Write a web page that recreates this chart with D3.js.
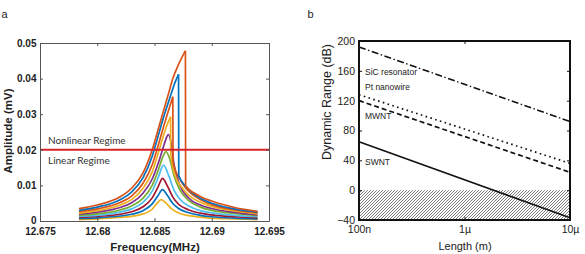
<!DOCTYPE html>
<html><head><meta charset="utf-8">
<script src="https://cdn.jsdelivr.net/npm/d3@7"></script>
<style>body{margin:0;background:#fff}svg{display:block}</style>
</head><body>
<svg id="chart" width="585" height="254"></svg>
<script>
// ---------- Panel a data ----------
const freqTicks = [12.675, 12.68, 12.685, 12.69, 12.695];
const freqTickLabels = ["12.675", "12.68", "12.685", "12.69", "12.695"];
const ampTicks = [0, 0.01, 0.02, 0.03, 0.04, 0.05];
const ampTickLabels = ["0", "0.01", "0.02", "0.03", "0.04", "0.05"];
const regimeThreshold = 0.02;
const sweepColors = ["#D95319", "#0072BD", "#D95319", "#EDB120", "#7E2F8E", "#77AC30", "#4DBEEE", "#A2142F", "#0072BD", "#EDB120"];
const sweep1 = [[12.6784,0.0035],[12.680,0.0045],[12.682,0.0068],[12.683,0.0092],[12.684,0.0135],[12.6848,0.0200],[12.6853,0.0255],[12.6857,0.0300],[12.6862,0.0355],[12.6866,0.0400],[12.6871,0.0440],[12.6877,0.0478],[12.68772,0.0099],[12.6885,0.0078],[12.689,0.0069],[12.690,0.0056],[12.692,0.0038],[12.694,0.0027]];
const sweep2 = [[12.6784,0.0030],[12.680,0.0039],[12.682,0.0060],[12.683,0.0081],[12.684,0.0122],[12.6848,0.0182],[12.6853,0.0237],[12.6858,0.0292],[12.6864,0.0352],[12.6868,0.0390],[12.6871,0.0412],[12.68712,0.0127],[12.6878,0.0095],[12.6885,0.0074],[12.689,0.0064],[12.690,0.0050],[12.692,0.0034],[12.694,0.0025]];
const sweep3 = [[12.6784,0.0026],[12.680,0.0034],[12.682,0.0052],[12.683,0.0070],[12.684,0.0106],[12.6848,0.0158],[12.6853,0.0210],[12.6857,0.0255],[12.6861,0.0298],[12.6866,0.0349],[12.68662,0.0165],[12.6872,0.0118],[12.6878,0.0090],[12.689,0.0060],[12.690,0.0046],[12.692,0.0031],[12.694,0.0023]];
const sweep4 = [[12.6784,0.0022],[12.680,0.0029],[12.682,0.0045],[12.683,0.0060],[12.684,0.0092],[12.6848,0.0138],[12.6853,0.0188],[12.6857,0.0232],[12.6861,0.0270],[12.6864,0.0293],[12.68642,0.0190],[12.6868,0.0128],[12.6875,0.0090],[12.688,0.0072],[12.689,0.0053],[12.690,0.0041],[12.692,0.0028],[12.694,0.0020]];
const sweep5 = [[12.6784,0.0019],[12.680,0.0025],[12.682,0.0038],[12.683,0.0051],[12.684,0.0078],[12.6848,0.0118],[12.6853,0.0160],[12.6857,0.0200],[12.6860,0.0230],[12.6862,0.0243],[12.6864,0.0228],[12.6867,0.0160],[12.6871,0.0110],[12.688,0.0064],[12.689,0.0045],[12.690,0.0035],[12.692,0.0024],[12.694,0.0017]];
const sweep6 = [[12.6784,0.0016],[12.680,0.0020],[12.682,0.0031],[12.683,0.0042],[12.684,0.0064],[12.6848,0.0100],[12.6853,0.0140],[12.6857,0.0178],[12.6860,0.0195],[12.6863,0.0178],[12.6867,0.0128],[12.6872,0.0088],[12.688,0.0057],[12.689,0.0039],[12.690,0.0030],[12.692,0.0021],[12.694,0.0015]];
const sweep7 = [[12.6784,0.0013],[12.680,0.0016],[12.682,0.0025],[12.683,0.0034],[12.684,0.0052],[12.6848,0.0084],[12.6853,0.0120],[12.6858,0.0157],[12.6862,0.0131],[12.6867,0.0087],[12.6872,0.0062],[12.688,0.0042],[12.689,0.0029],[12.690,0.0023],[12.692,0.0016],[12.694,0.0012]];
const sweep8 = [[12.6784,0.0010],[12.680,0.0013],[12.682,0.0019],[12.683,0.0026],[12.684,0.0040],[12.6848,0.0065],[12.6853,0.0095],[12.6857,0.0120],[12.6861,0.0100],[12.6866,0.0067],[12.6871,0.0047],[12.688,0.0031],[12.689,0.0022],[12.690,0.0017],[12.692,0.0012],[12.694,0.0009]];
const sweep9 = [[12.6784,0.0007],[12.680,0.0009],[12.682,0.0014],[12.683,0.0019],[12.684,0.0029],[12.6848,0.0048],[12.6853,0.0071],[12.6857,0.0088],[12.6861,0.0073],[12.6866,0.0049],[12.6871,0.0035],[12.688,0.0023],[12.689,0.0016],[12.690,0.0012],[12.692,0.0008],[12.694,0.0006]];
const sweep10 = [[12.6784,0.0004],[12.680,0.0006],[12.682,0.0010],[12.683,0.0013],[12.684,0.0020],[12.6848,0.0033],[12.6852,0.0049],[12.6856,0.0060],[12.6860,0.0050],[12.6865,0.0034],[12.6870,0.0024],[12.688,0.0015],[12.689,0.0011],[12.690,0.0008],[12.692,0.0006],[12.694,0.0004]];
const sweeps = [sweep1, sweep2, sweep3, sweep4, sweep5, sweep6, sweep7, sweep8, sweep9, sweep10];

// ---------- Panel b data ----------
const lengthRange = [1e-7, 1e-5];
const lengthTicks = [1e-7, 1e-6, 1e-5];
const lengthTickLabels = ["100n", "1µ", "10µ"];
const drTicks = [-40, 0, 40, 80, 120, 160, 200];
const materials = ["SiC resonator", "Pt nanowire", "MWNT", "SWNT"];
const drSiC = [192, 92];
const drPt = [128, 36];
const drMWNT = [120, 24];
const drSWNT = [65, -37];
const noiseFloor = [0, -40];

const svg = d3.select("#chart");
const sans = "'Liberation Sans', Arial, sans-serif";

// ================= Panel a =================
const xa = d3.scaleLinear().domain([12.675, 12.695]).range([40, 269]);
const ya = d3.scaleLinear().domain([0, 0.05]).range([221, 43]);
const ga = svg.append("g");
const axisCol = "#555";

const line = d3.line().x(d => xa(d[0])).y(d => ya(d[1])).curve(d3.curveMonotoneX);
for (let i = sweeps.length - 1; i >= 0; i--) {
  const s = sweeps[i];
  let imax = d3.maxIndex(s, d => d[1]);
  const parts = [];
  if (imax < s.length - 1 && (s[imax + 1][0] - s[imax][0]) < 0.00005) {
    parts.push(s.slice(0, imax + 1), s.slice(imax));
  } else parts.push(s);
  parts.forEach(p => ga.append("path").attr("d", line(p)).attr("fill", "none")
    .attr("stroke", sweepColors[i]).attr("stroke-width", 1.7).attr("stroke-linejoin", "round"));
}

// threshold line
ga.append("line").attr("x1", xa(12.675)).attr("x2", xa(12.695))
  .attr("y1", ya(regimeThreshold)).attr("y2", ya(regimeThreshold))
  .attr("stroke", "#d8222a").attr("stroke-width", 2);
ga.append("text").attr("x", 48).attr("y", ya(regimeThreshold) - 6).text("Nonlinear Regime")
  .attr("font-family", "Lato, 'Open Sans', sans-serif").attr("font-size", 10).attr("fill", "#333");
ga.append("text").attr("x", 48).attr("y", ya(regimeThreshold) + 14).text("Linear Regime")
  .attr("font-family", "Lato, 'Open Sans', sans-serif").attr("font-size", 10).attr("fill", "#333");

// axes (box with inward ticks)
const axB = ga.append("g").attr("transform", `translate(0,${ya(0)})`)
  .call(d3.axisBottom(xa).tickValues(freqTicks).tickFormat((d, i) => freqTickLabels[i]).tickSizeInner(-3).tickSizeOuter(0).tickPadding(6.5));
const axT = ga.append("g").attr("transform", `translate(0,${ya(0.05)})`)
  .call(d3.axisTop(xa).tickValues(freqTicks).tickFormat("").tickSizeInner(-3).tickSizeOuter(0));
const axL = ga.append("g").attr("transform", `translate(${xa(12.675)},0)`)
  .call(d3.axisLeft(ya).tickValues(ampTicks).tickFormat((d, i) => ampTickLabels[i]).tickSizeInner(-3).tickSizeOuter(0).tickPadding(3.5));
const axR = ga.append("g").attr("transform", `translate(${xa(12.695)},0)`)
  .call(d3.axisRight(ya).tickValues(ampTicks).tickFormat("").tickSizeInner(-3).tickSizeOuter(0));
[axB, axT, axL, axR].forEach(g => {
  g.selectAll("path,line").attr("stroke", axisCol).attr("stroke-width", 1);
  g.selectAll("text").attr("font-family", sans).attr("font-size", 10).attr("font-weight", "bold").attr("fill", "#222");
});
// zero label sits slightly above the corner
axL.selectAll(".tick text").filter(d => d === 0).attr("dy", "0.2em");

ga.append("text").attr("x", 155).attr("y", 251).attr("text-anchor", "middle").text("Frequency(MHz)")
  .attr("font-family", sans).attr("font-size", 11.5).attr("font-weight", "bold").attr("fill", "#222");
ga.append("text").attr("transform", "translate(11.5,131) rotate(-90)").attr("text-anchor", "middle").text("Amplitude (mV)")
  .attr("font-family", sans).attr("font-size", 11.5).attr("font-weight", "bold").attr("fill", "#222");
ga.append("text").attr("x", 1.5).attr("y", 18).text("a").attr("font-family", sans).attr("font-size", 11).attr("fill", "#222");

// ================= Panel b =================
const xb = d3.scaleLog().domain(lengthRange).range([359, 570]);
const yb = d3.scaleLinear().domain([-40, 200]).range([220, 41]);
const gb = svg.append("g");

const defs = svg.append("defs");
const pat = defs.append("pattern").attr("id", "hatch").attr("patternUnits", "userSpaceOnUse")
  .attr("width", 3).attr("height", 3);
pat.append("path").attr("d", "M-1,1 l2,-2 M0,3 l3,-3 M2,4 l2,-2").attr("stroke", "#444").attr("stroke-width", 0.7);

gb.append("rect").attr("x", xb(lengthRange[0])).attr("y", yb(noiseFloor[0]))
  .attr("width", xb(lengthRange[1]) - xb(lengthRange[0])).attr("height", yb(noiseFloor[1]) - yb(noiseFloor[0]))
  .attr("fill", "url(#hatch)");

const lineB = d3.line().x((d, i) => xb(lengthRange[i])).y(d => yb(d));
const styles = [
  {data: drSiC, dash: "7,2.5,1.5,2.5", w: 1.5},
  {data: drPt, dash: "1.6,3.4", w: 1.7},
  {data: drMWNT, dash: "5,3", w: 1.7},
  {data: drSWNT, dash: null, w: 1.5}
];
styles.forEach(s => {
  const p = gb.append("path").attr("d", lineB(s.data)).attr("fill", "none").attr("stroke", "#111").attr("stroke-width", s.w);
  if (s.dash) p.attr("stroke-dasharray", s.dash);
});

const labelY = [72, 87, 116.5, 162.5];
materials.forEach((m, i) => gb.append("text").attr("x", 365).attr("y", labelY[i]).attr("dy", "0.35em").text(m)
  .attr("font-family", sans).attr("font-size", 8.5).attr("fill", "#222"));

const bB = gb.append("g").attr("transform", `translate(0,${yb(-40)})`)
  .call(d3.axisBottom(xb).tickValues(lengthTicks).tickFormat((d, i) => lengthTickLabels[i]).tickSizeInner(-3).tickSizeOuter(0).tickPadding(6));
const bT = gb.append("g").attr("transform", `translate(0,${yb(200)})`)
  .call(d3.axisTop(xb).tickValues(lengthTicks).tickFormat("").tickSizeInner(-3).tickSizeOuter(0));
const bL = gb.append("g").attr("transform", `translate(${xb(1e-7)},0)`)
  .call(d3.axisLeft(yb).tickValues(drTicks).tickFormat(d3.format("d")).tickSizeInner(-3).tickSizeOuter(0).tickPadding(4));
const bR = gb.append("g").attr("transform", `translate(${xb(1e-5)},0)`)
  .call(d3.axisRight(yb).tickValues(drTicks).tickFormat("").tickSizeInner(-3).tickSizeOuter(0));
[bB, bT, bL, bR].forEach(g => {
  g.select(".domain").remove();
  g.selectAll("line").attr("stroke", "#111").attr("stroke-width", 1);
  g.selectAll("text").attr("font-family", sans).attr("font-size", 10.5).attr("fill", "#222");
});
gb.append("rect").attr("x", xb(1e-7)).attr("y", yb(200)).attr("width", xb(1e-5) - xb(1e-7)).attr("height", yb(-40) - yb(200))
  .attr("fill", "none").attr("stroke", "#111").attr("stroke-width", 2);

gb.append("text").attr("x", 465).attr("y", 250).attr("text-anchor", "middle").text("Length (m)")
  .attr("font-family", sans).attr("font-size", 11).attr("fill", "#222");
gb.append("text").attr("transform", "translate(331,102) rotate(-90)").attr("text-anchor", "middle").text("Dynamic Range (dB)")
  .attr("font-family", sans).attr("font-size", 12.5).attr("fill", "#222");
gb.append("text").attr("x", 307.5).attr("y", 18).text("b").attr("font-family", sans).attr("font-size", 11).attr("fill", "#222");
</script>
</body></html>
